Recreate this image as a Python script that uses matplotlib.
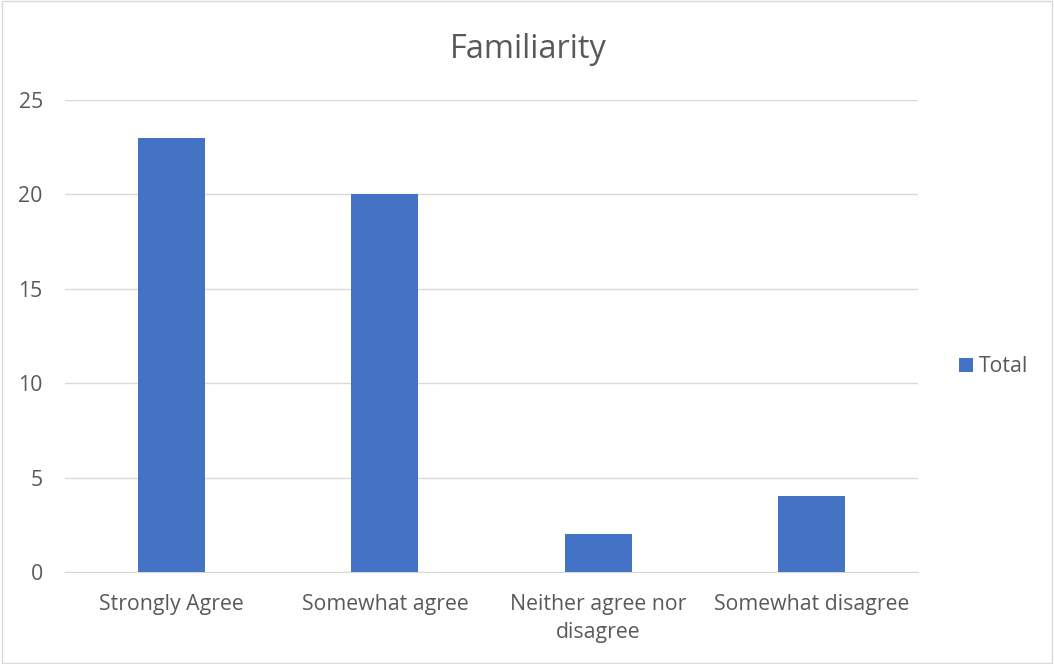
import matplotlib.pyplot as plt
from matplotlib.patches import Rectangle

categories = ['Strongly Agree', 'Somewhat agree', 'Neither agree nor\ndisagree', 'Somewhat disagree']
totals = [23, 20, 2, 4]
y_ticks = [0, 5, 10, 15, 20, 25]

text_color = '#595959'
bar_color = '#4472C4'
grid_color = '#D9D9D9'

plt.rcParams['font.family'] = ['Open Sans', 'DejaVu Sans']

fig = plt.figure(figsize=(10.54, 6.64), dpi=100)
ax = fig.add_axes([65 / 1054, 92 / 664, 853 / 1054, 472 / 664])

x = range(len(categories))
bars = ax.bar(x, totals, width=0.315, color=bar_color, label='Total', zorder=3)

ax.set_xlim(-0.5, len(categories) - 0.5)
ax.set_ylim(0, 25)
ax.set_yticks(y_ticks)
ax.set_xticks(list(x))
ax.set_xticklabels(categories, linespacing=1.45)

ax.grid(axis='y', color=grid_color, linewidth=1, zorder=0)
for side in ['top', 'right', 'left']:
    ax.spines[side].set_visible(False)
ax.spines['bottom'].set_color(grid_color)
ax.tick_params(axis='both', length=0, colors=text_color, labelsize=15.3)
ax.tick_params(axis='y', pad=16)
ax.tick_params(axis='x', pad=16)

fig.text(528 / 1054, 1 - 49 / 664, 'Familiarity', ha='center', va='center',
         fontsize=23.5, color=text_color)

leg = fig.legend(handles=[bars], labels=['Total'], loc='center left',
                 bbox_to_anchor=(940 / 1054, 1 - 367 / 664), frameon=False,
                 fontsize=15.3, handlelength=0.65, handleheight=0.65,
                 handletextpad=0.3)
for t in leg.get_texts():
    t.set_color(text_color)

# light outline round the whole chart
fig.patches.append(Rectangle((0.002, 0.002), 0.996, 0.996, transform=fig.transFigure,
                             fill=False, edgecolor='#D9D9D9', linewidth=1))

fig.savefig('out.png', dpi=100)
